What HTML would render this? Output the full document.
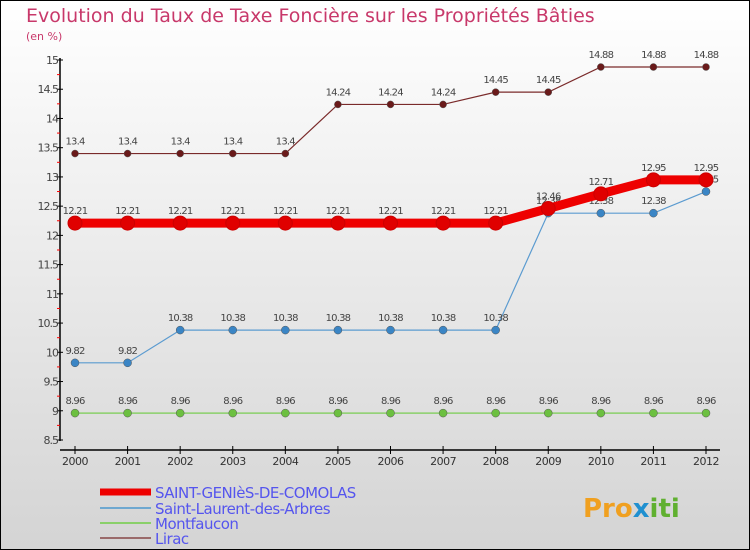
<!DOCTYPE html>
<html><head><meta charset="utf-8"><style>
body{margin:0;width:750px;height:550px;overflow:hidden}
svg{display:block;font-family:"DejaVu Sans","Liberation Sans",sans-serif}
</style></head><body>
<svg id="c" width="750" height="550">
<defs><linearGradient id="bg" x1="0" y1="0" x2="0" y2="1"><stop offset="0" stop-color="#ffffff"/><stop offset="1" stop-color="#d4d4d4"/></linearGradient></defs>
<rect x="0.5" y="0.5" width="749" height="549" fill="url(#bg)" stroke="#000"/>
<text x="26" y="22" font-size="19" fill="#c8386a">Evolution du Taux de Taxe Foncière sur les Propriétés Bâties</text>
<text x="26" y="40" font-size="11" fill="#c8386a">(en %)</text>
<g id="axes"></g><g id="series"></g><g id="legend"></g>
<text x="583" y="517" font-size="26" font-weight="bold" fill="#f0a020">Pro<tspan fill="#2090d0">x</tspan><tspan fill="#60b030">iti</tspan></text>
</svg>
<script>
const years=[2000,2001,2002,2003,2004,2005,2006,2007,2008,2009,2010,2011,2012];
const saintGenies=[12.21,12.21,12.21,12.21,12.21,12.21,12.21,12.21,12.21,12.46,12.71,12.95,12.95];
const saintLaurent=[9.82,9.82,10.38,10.38,10.38,10.38,10.38,10.38,10.38,12.38,12.38,12.38,12.75];
const montfaucon=[8.96,8.96,8.96,8.96,8.96,8.96,8.96,8.96,8.96,8.96,8.96,8.96,8.96];
const lirac=[13.4,13.4,13.4,13.4,13.4,14.24,14.24,14.24,14.45,14.45,14.88,14.88,14.88];
const yTicks=[8.5,9,9.5,10,10.5,11,11.5,12,12.5,13,13.5,14,14.5,15];
const seriesNames=["SAINT-GENIèS-DE-COMOLAS","Saint-Laurent-des-Arbres","Montfaucon","Lirac"];
const NS="http://www.w3.org/2000/svg";
const X=i=>75+i*(706-75)/(years.length-1);
const Y=v=>440-(v-8.5)*(380/6.5);
function mk(tag,attrs,parent,txt){const e=document.createElementNS(NS,tag);for(const k in attrs)e.setAttribute(k,attrs[k]);if(txt!==undefined)e.textContent=txt;parent.appendChild(e);return e;}
const ax=document.getElementById('axes');
let e=mk('line',{x1:60,y1:58,x2:60,y2:441,stroke:'#000','stroke-width':1.5},ax);

e=mk('line',{x1:60,y1:450,x2:720,y2:450,stroke:'#000','stroke-width':1.5},ax);

yTicks.forEach((t,i)=>{const y=Y(t);
mk('line',{x1:57,y1:y,x2:63,y2:y,stroke:'#000'},ax);
if(i<yTicks.length-1)mk('line',{x1:57,y1:Y(t+0.25),x2:60,y2:Y(t+0.25),stroke:'#f00'},ax);
e=mk('text',{x:58,y:y+4,'font-size':11,fill:'#444','text-anchor':'end','letter-spacing':'-1'},ax,String(t));
});
years.forEach((yr,i)=>{const x=X(i);
mk('line',{x1:x,y1:446,x2:x,y2:454,stroke:'#000'},ax);
e=mk('text',{x:x,y:465,'font-size':11,fill:'#333','text-anchor':'middle','letter-spacing':'-0.5'},ax,String(yr));
});
const sg=document.getElementById('series');
const defs=[[lirac,'#7a2a2a','#6a1a1a',1.2,3.5],[montfaucon,'#8ad06a','#6cc040',1.5,4],[saintLaurent,'#5b9bd0','#3a85c5',1.2,4],[saintGenies,'#ee0000','#e00000',9,7]];
const names=['lirac-series','montfaucon-series','saint-laurent-series','saint-genies-series'];
defs.forEach(([vals,col,dot,w,r],k)=>{
const g=mk('g',{},sg);

mk('polyline',{points:vals.map((v,i)=>X(i)+','+Y(v)).join(' '),fill:'none',stroke:col,'stroke-width':w},g);
vals.forEach((v,i)=>{
const c=mk('circle',{cx:X(i),cy:Y(v),r:r,fill:dot,stroke:k==3?'#c00':'#555','stroke-width':k==3?1:0.5},g);

const t=mk('text',{x:X(i),y:Y(v)-9,'font-size':10,fill:'#444','text-anchor':'middle','letter-spacing':'-0.8'},g,String(v));
});});
const lg=document.getElementById('legend');
const lcols=['#ee0000','#6ea8d0','#8ad06a','#9a6a6a'],lw=[7,2,2,2],ly=[492,508,523,538];
seriesNames.forEach((n,i)=>{const g=mk('g',{},lg);

mk('line',{x1:100,y1:ly[i],x2:151,y2:ly[i],stroke:lcols[i],'stroke-width':lw[i]},g);
mk('text',{x:155,y:ly[i]+6,'font-size':15,fill:'#5555ee','letter-spacing':'-0.5'},g,n);});
</script>
</body></html>
